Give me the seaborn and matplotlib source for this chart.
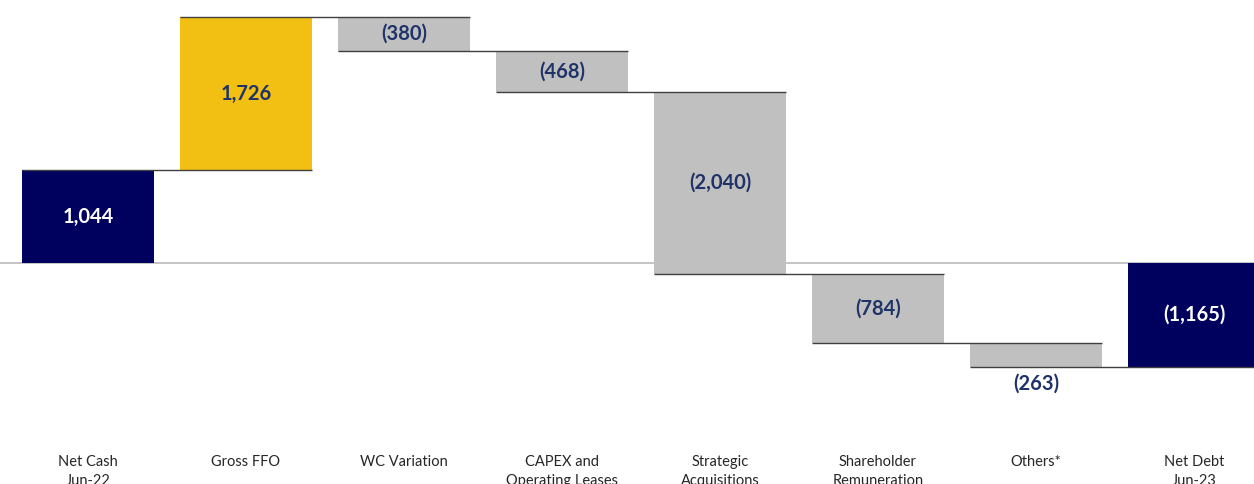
import matplotlib
matplotlib.use("Agg")
import matplotlib.pyplot as plt
import seaborn as sns
import numpy as np
import pandas as pd

# Waterfall data (EUR m)
categories = ["Net Cash\nJun-22", "Gross FFO", "WC Variation", "CAPEX and\nOperating Leases",
              "Strategic\nAcquisitions", "Shareholder\nRemuneration", "Others*", "Net Debt\nJun-23"]
changes = [1044, 1726, -380, -468, -2040, -784, -263]
labels = ["1,044", "1,726", "(380)", "(468)", "(2,040)", "(784)", "(263)", "(1,165)"]
bar_kind = ["total", "up", "down", "down", "down", "down", "down", "total"]

# build bottoms / heights from the cumulative sums
cum = np.cumsum(changes)
bottoms = [0] + list(cum[:-1]) + [0]
heights = list(changes) + [cum[-1]]
df = pd.DataFrame({"cat": categories, "bottom": bottoms, "height": heights, "kind": bar_kind})

colors = {"total": "#00005E", "up": "#F2BF13", "down": "#C0C0C0"}
navy_text = "#1F3368"

sns.set_style("white")
plt.rcParams["font.family"] = ["Lato", "DejaVu Sans"]

fig = plt.figure(figsize=(12.54, 4.84), dpi=100)
ax = fig.add_axes([0, 0.0764, 1, 0.9236])

width = 0.835
sns.barplot(data=df, x="cat", y="height", bottom=df["bottom"].values, color="#C0C0C0",
            width=width, ax=ax, zorder=3, linewidth=0)
for patch, kind in zip(ax.patches, df["kind"]):
    patch.set_facecolor(colors[kind])

# zero line
ax.axhline(0, color="#BFBFBF", lw=1.3, zorder=1)

# connectors
levels = list(cum)
for i, lvl in enumerate(levels):
    ax.hlines(lvl, i - width / 2, i + 1 + width / 2, color="#404040", lw=1.0, zorder=4)

# value labels
for i, (b, h, lab, kind) in enumerate(zip(df["bottom"], df["height"], labels, df["kind"])):
    txt_color = "white" if kind == "total" else navy_text
    if lab == "(263)":
        y = b + h - 190
    else:
        y = b + h / 2
    ax.text(i, y, lab, ha="center", va="center", fontsize=14.5, fontweight="bold",
            color=txt_color, zorder=5)

ax.set_xlim(-0.557, 7.38)
ax.set_ylim(-2070, 2960)
ax.set_xlabel("")
ax.set_ylabel("")
ax.set_yticks([])
ax.tick_params(axis="x", length=0, pad=6, labelsize=10.5)
for t in ax.get_xticklabels():
    t.set_linespacing(1.45)
sns.despine(ax=ax, left=True, bottom=True)

fig.savefig("out.png", dpi=100)
